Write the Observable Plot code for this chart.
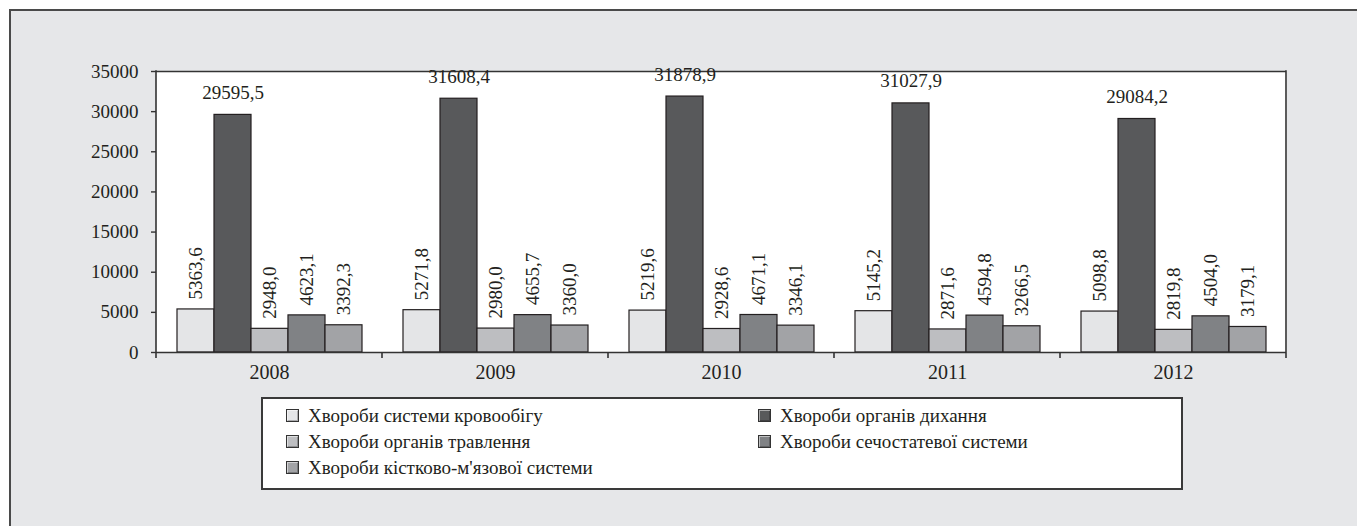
<!DOCTYPE html>
<html>
<head>
<meta charset="utf-8">
<script src="https://cdn.jsdelivr.net/npm/d3@7"></script>
<script src="https://cdn.jsdelivr.net/npm/@observablehq/plot@0.6"></script>
<style>
  body { margin: 0; background: #fff; font-family: "Liberation Serif", "Times New Roman", Times, serif; color: #231f20; }
  #bg { position: absolute; left: 9px; top: 9px; width: 1400px; height: 600px; background: #e6e7e9;
        border-top: 2px solid #4a4a4a; border-left: 2px solid #4a4a4a; box-sizing: border-box; }
  #chart { position: absolute; left: 0; top: 0; }
  #legend { position: absolute; left: 261px; top: 397px; width: 922px; height: 93px; box-sizing: border-box;
            background: #fff; border: 2px solid #3a3a3a; }
  .item { position: absolute; display: flex; align-items: center; height: 20px; font-size: 19px; letter-spacing: 0px; white-space: nowrap; }
  .sw { width: 13px; height: 13px; border: 1px solid #333; margin-right: 9px; box-sizing: border-box;
        box-shadow: inset 1px 1px 0 rgba(255,255,255,0.5), inset -1px -1px 0 rgba(0,0,0,0.25); }
</style>
</head>
<body>
<div id="bg"></div>
<div id="chart"></div>
<div id="legend"></div>
<script>
const years = ["2008", "2009", "2010", "2011", "2012"];
const series = [
  "Хвороби системи кровообігу",
  "Хвороби органів дихання",
  "Хвороби органів травлення",
  "Хвороби сечостатевої системи",
  "Хвороби кістково-м'язової системи"
];
const circulatory     = [5363.6, 5271.8, 5219.6, 5145.2, 5098.8];
const respiratory     = [29595.5, 31608.4, 31878.9, 31027.9, 29084.2];
const digestive       = [2948.0, 2980.0, 2928.6, 2871.6, 2819.8];
const genitourinary   = [4623.1, 4655.7, 4671.1, 4594.8, 4504.0];
const musculoskeletal = [3392.3, 3360.0, 3346.1, 3266.5, 3179.1];
const yTicks = [0, 5000, 10000, 15000, 20000, 25000, 30000, 35000];
const colors = ["#e4e5e7", "#58595b", "#bdbec1", "#808285", "#a2a3a6"];

const valuesBySeries = [circulatory, respiratory, digestive, genitourinary, musculoskeletal];
const table = years.flatMap((year, i) =>
  series.map((s, j) => ({year, series: s, value: valuesBySeries[j][i]})));
const fmt = d => d.value.toFixed(1).replace(".", ",");
const INK = "#231f20";
const LINE = "#333";
const FONT = "'Liberation Serif', 'Times New Roman', Times, serif";

const edges = Plot.ruleY(years, {
  fx: d => d,
  y: () => 0,
  render(index, scales, values, dims) {
    const yr = years[index[0]];
    const l = dims.marginLeft, r = dims.width - dims.marginRight;
    const t = dims.marginTop, b = dims.height - dims.marginBottom;
    const g = d3.create("svg:g").attr("stroke", LINE).attr("stroke-width", 1.6).attr("fill", "none");
    g.append("line").attr("x1", l).attr("x2", l).attr("y1", b).attr("y2", b + 6);
    if (yr === years[0]) g.append("line").attr("x1", l).attr("x2", l).attr("y1", t - 0.8).attr("y2", b);
    if (yr === years[years.length - 1]) {
      g.append("line").attr("x1", r).attr("x2", r).attr("y1", b).attr("y2", b + 6);
      g.append("line").attr("x1", r).attr("x2", r).attr("y1", t - 0.8).attr("y2", b);
    }
    return g.node();
  }
});

const chart = Plot.plot({
  width: 1357,
  height: 400,
  marginLeft: 155,
  marginRight: 70,
  marginTop: 71,
  marginBottom: 48,
  style: {background: "transparent", fontFamily: FONT, fontSize: "19px", color: INK},
  fx: {domain: years, padding: 0, label: null},
  x: {domain: series, paddingInner: 0, paddingOuter: 0.48, axis: null},
  y: {domain: [0, 35000], label: null},
  color: {domain: series, range: colors},
  marks: [
    Plot.frame({fill: "white", insetLeft: -0.5, insetRight: -0.5}),
    Plot.barY(table, {fx: "year", x: "series", y: "value", fill: "series", stroke: INK, strokeWidth: 1.2}),
    Plot.ruleY([0, 35000], {stroke: LINE, strokeWidth: 1.6}),
    edges,
    Plot.text(table.filter(d => d.series !== series[1]), {
      fx: "year", x: "series", y: "value", text: fmt, rotate: -90,
      textAnchor: "start", dy: -10, fontSize: 19, fontFamily: FONT, fill: INK
    }),
    Plot.text(table.filter(d => d.series === series[1]), {
      fx: "year", x: "series", y: "value", text: fmt,
      textAnchor: "middle", lineAnchor: "bottom", dy: -16, fontSize: 19, fontFamily: FONT, fill: INK
    }),
    Plot.axisY({ticks: yTicks, tickFormat: d => String(d), tickSize: 5, tickPadding: 13, label: null,
      fontSize: 19, fontFamily: FONT, stroke: LINE, strokeWidth: 1.4, fill: INK}),
    Plot.axisFx({anchor: "bottom", tickSize: 0, tickPadding: 12, label: null, fontSize: 20, fontFamily: FONT, fill: INK})
  ]
});
document.getElementById("chart").appendChild(chart);

// Legend (two columns, row-major order)
const legend = document.getElementById("legend");
series.forEach((s, i) => {
  const col = i % 2, row = Math.floor(i / 2);
  const item = document.createElement("div");
  item.className = "item";
  item.style.left = (col === 0 ? 23 : 495) + "px";
  item.style.top = (6.5 + row * 26) + "px";
  const sw = document.createElement("span");
  sw.className = "sw";
  sw.style.background = colors[i];
  const label = document.createElement("span");
  label.textContent = s;
  item.appendChild(sw);
  item.appendChild(label);
  legend.appendChild(item);
});
</script>
</body>
</html>
